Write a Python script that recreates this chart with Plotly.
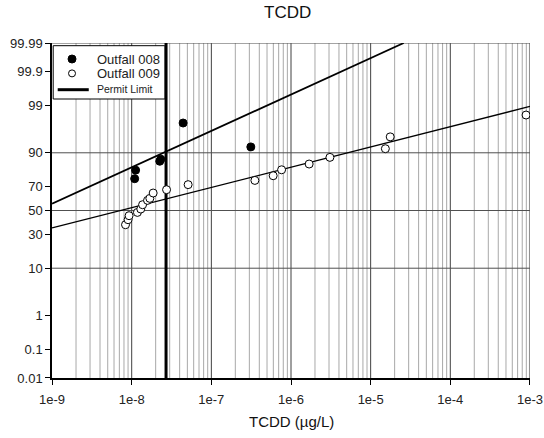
import plotly.graph_objects as go
from statistics import NormalDist

# ---------------- data ----------------
# Outfall 008 (filled circles): concentration (ug/L), cumulative probability (%)
o008_x = [1.09e-8, 1.12e-8, 2.25e-8, 2.32e-8, 4.42e-8, 3.13e-7]
o008_p = [76.0, 81.5, 86.3, 87.3, 97.4, 92.1]

# Outfall 009 (open circles)
o009_x = [8.36e-9, 9.01e-9, 9.27e-9, 1.18e-8, 1.30e-8, 1.37e-8, 1.58e-8, 1.69e-8,
          1.86e-8, 2.74e-8, 5.11e-8, 3.52e-7, 5.97e-7, 7.62e-7, 1.69e-6, 3.08e-6,
          1.53e-5, 1.76e-5, 8.93e-4]
o009_p = [37.6, 41.9, 45.4, 48.3, 51.3, 55.1, 58.9, 60.6,
          65.1, 67.8, 71.7, 74.8, 78.0, 81.7, 84.9, 88.1,
          91.5, 94.9, 98.3]

# Fitted lognormal lines (end points)
fit008_x = [1e-9, 2.6e-5]
fit008_p = [56.0, 99.99]
fit009_x = [1e-9, 1e-3]
fit009_p = [34.9, 98.96]

# Permit limit
permit_x = 2.7e-8

# Axis ticks
y_ticks = [0.01, 0.1, 1, 10, 30, 50, 70, 90, 99, 99.9, 99.99]
y_ticklabels = ["0.01", "0.1", "1", "10", "30", "50", "70", "90", "99", "99.9", "99.99"]
y_grid = [10, 50, 90, 99.99]
x_ticks = [1e-9, 1e-8, 1e-7, 1e-6, 1e-5, 1e-4, 1e-3]
x_ticklabels = ["1e-9", "1e-8", "1e-7", "1e-6", "1e-5", "1e-4", "1e-3"]

legend_labels = ["Outfall 008", "Outfall 009", "Permit Limit"]

# ---------------- probability scale ----------------
nd = NormalDist()
def z(p):
    return nd.inv_cdf(p / 100.0)

zmin, zmax = z(0.01), z(99.99)

FONT = "Liberation Sans, Arial, sans-serif"
fig = go.Figure()

# minor vertical gridlines (2..9 x decade)
gx, gy = [], []
for d in range(-9, -3):
    for k in range(2, 10):
        gx += [k * 10 ** d, k * 10 ** d, None]
        gy += [zmin, zmax, None]
fig.add_trace(go.Scatter(x=gx, y=gy, mode="lines", line=dict(color="#a8a8a8", width=1),
                         hoverinfo="skip", showlegend=False))
# major vertical gridlines
mx, my = [], []
for v in x_ticks[1:-1]:
    mx += [v, v, None]
    my += [zmin, zmax, None]
fig.add_trace(go.Scatter(x=mx, y=my, mode="lines", line=dict(color="#404040", width=1),
                         hoverinfo="skip", showlegend=False))
fig.add_trace(go.Scatter(x=[x_ticks[-1], x_ticks[-1]], y=[zmin, zmax], mode="lines",
                         line=dict(color="#909090", width=2), hoverinfo="skip", showlegend=False))
# horizontal gridlines
hx, hy = [], []
for p in y_grid:
    hx += [x_ticks[0], x_ticks[-1], None]
    hy += [z(p), z(p), None]
fig.add_trace(go.Scatter(x=hx, y=hy, mode="lines", line=dict(color="#505050", width=1),
                         hoverinfo="skip", showlegend=False))

# fit lines
fig.add_trace(go.Scatter(x=fit008_x, y=[z(p) for p in fit008_p], mode="lines",
                         line=dict(color="black", width=1.8), showlegend=False, hoverinfo="skip"))
fig.add_trace(go.Scatter(x=fit009_x, y=[z(p) for p in fit009_p], mode="lines",
                         line=dict(color="black", width=1.3), showlegend=False, hoverinfo="skip"))

# permit limit
fig.add_trace(go.Scatter(x=[permit_x, permit_x], y=[zmin, zmax], mode="lines",
                         line=dict(color="black", width=3),
                         name=legend_labels[2], showlegend=False))

# data points
fig.add_trace(go.Scatter(x=o008_x, y=[z(p) for p in o008_p], mode="markers",
                         marker=dict(symbol="circle", size=8, color="black",
                                     line=dict(color="black", width=1)),
                         name=legend_labels[0], showlegend=False))
fig.add_trace(go.Scatter(x=o009_x, y=[z(p) for p in o009_p], mode="markers",
                         marker=dict(symbol="circle", size=8, color="white",
                                     line=dict(color="black", width=1)),
                         name=legend_labels[1], showlegend=False))

# ---------------- manual legend (paper coordinates) ----------------
L, R, T, B = 52.3, 529.6, 43.3, 378.3
def px(v):
    return (v - L) / (R - L)
def py(v):
    return (B - v) / (B - T)

shapes = [
    dict(type="rect", xref="paper", yref="paper", x0=px(53.5), x1=px(165), y0=py(99.3), y1=py(46),
         line=dict(color="black", width=1), fillcolor="white", layer="above"),
    dict(type="circle", xref="paper", yref="paper", xsizemode="pixel", ysizemode="pixel",
         xanchor=px(72.3), yanchor=py(59.3), x0=-4, x1=4, y0=-4, y1=4,
         fillcolor="black", line=dict(color="black", width=1), layer="above"),
    dict(type="circle", xref="paper", yref="paper", xsizemode="pixel", ysizemode="pixel",
         xanchor=px(72.3), yanchor=py(73.7), x0=-3.5, x1=3.5, y0=-3.5, y1=3.5,
         fillcolor="white", line=dict(color="black", width=1), layer="above"),
    dict(type="line", xref="paper", yref="paper", x0=px(58), x1=px(89), y0=py(90), y1=py(90),
         line=dict(color="black", width=3), layer="above"),
]

annotations = [
    dict(text="TCDD", xref="paper", yref="paper", x=0.492, y=1.0904,
         xanchor="center", yanchor="middle", showarrow=False,
         font=dict(size=17, color="#111")),
    dict(text="TCDD (\u00b5g/L)", xref="paper", yref="paper", x=0.5016, y=-0.1304,
         xanchor="center", yanchor="middle", showarrow=False,
         font=dict(size=15, color="#111")),
    dict(text=legend_labels[0], xref="paper", yref="paper", x=px(95), y=py(59.5),
         xanchor="left", yanchor="middle", showarrow=False, font=dict(size=13, color="#222")),
    dict(text=legend_labels[1], xref="paper", yref="paper", x=px(95), y=py(74),
         xanchor="left", yanchor="middle", showarrow=False, font=dict(size=13, color="#222")),
    dict(text=legend_labels[2], xref="paper", yref="paper", x=px(95), y=py(89.5),
         xanchor="left", yanchor="middle", showarrow=False, font=dict(size=10.5, color="#222")),
]

fig.update_layout(
    width=544, height=438,
    margin=dict(l=52, r=14, t=43, b=60, autoexpand=False),
    paper_bgcolor="white", plot_bgcolor="white",
    font=dict(family=FONT, size=13, color="#222"),
    showlegend=False,
    hovermode=False,
    xaxis=dict(type="log", range=[-9.0005, -2.9995], showgrid=False, zeroline=False,
               tickmode="array", tickvals=x_ticks, ticktext=x_ticklabels,
               ticks="outside", ticklen=5, tickcolor="black", ticklabelstandoff=4,
               showline=True, linecolor="black", linewidth=1.5, automargin=False),
    yaxis=dict(range=[zmin - 0.0005, zmax + 0.0005], showgrid=False, zeroline=False,
               tickmode="array", tickvals=[z(p) for p in y_ticks], ticktext=y_ticklabels,
               ticks="outside", ticklen=5, tickcolor="black",
               showline=True, linecolor="black", linewidth=1.5, automargin=False),
    shapes=shapes,
    annotations=annotations,
)

fig.write_html("out.html", config={"displayModeBar": False},
               post_script="document.body.style.margin='0';document.body.style.overflow='hidden';")
